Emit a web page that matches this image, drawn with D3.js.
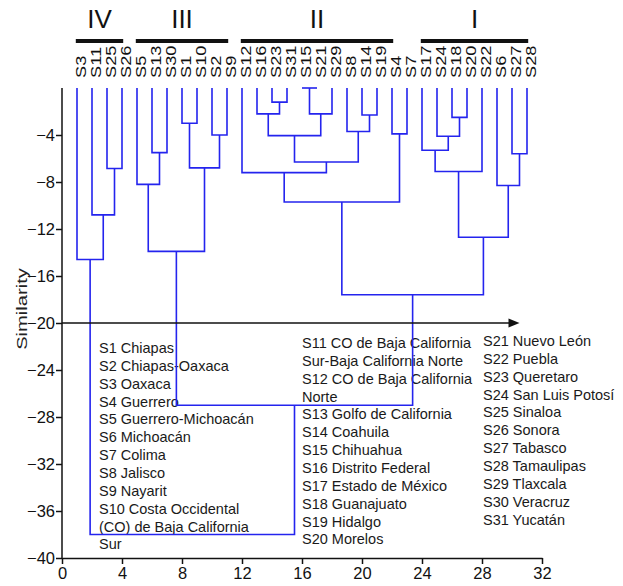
<!DOCTYPE html>
<html>
<head>
<meta charset="utf-8">
<script src="https://cdn.jsdelivr.net/npm/d3@7"></script>
<style>
  body { margin: 0; background: #fff; }
  svg { display: block; font-family: "Liberation Sans", Arial, sans-serif; }
</style>
</head>
<body>
<svg width="623" height="586"></svg>
<script>
// leaf order along the x axis (leaf i sits at x = i + 1)
const leaves = ["S3", "S11", "S25", "S26", "S5", "S13", "S30", "S1", "S10", "S2", "S9",
    "S12", "S16", "S23", "S31", "S15", "S21", "S29", "S8", "S14", "S19", "S4", "S7",
    "S17", "S24", "S18", "S20", "S22", "S6", "S27", "S28"];

// agglomeration steps: [left, right, similarity], "#k" = cluster made at step k
const merges = [
    ["S25", "S26", -6.85], ["S11", "#0", -10.8], ["S3", "#1", -14.6],
    ["S13", "S30", -5.5], ["S5", "#3", -8.2], ["S1", "S10", -3.0], ["S2", "S9", -4.0],
    ["#5", "#6", -6.8], ["#4", "#7", -13.9],
    ["S23", "S31", -1.2], ["S16", "#9", -2.2], ["S15", "S21", 0], ["#11", "S29", -2.2],
    ["#10", "#12", -4.05], ["S14", "S19", -2.3], ["S8", "#14", -3.7], ["#13", "#15", -6.3],
    ["S12", "#16", -7.2], ["S4", "S7", -3.9], ["#17", "#18", -9.7],
    ["S18", "S20", -2.5], ["S24", "#20", -4.1], ["S17", "#21", -5.3], ["#22", "S22", -7.1],
    ["S27", "S28", -5.6], ["S6", "#24", -8.3], ["#23", "#25", -12.7],
    ["#19", "#26", -17.6], ["#8", "#27", -27.0], ["#2", "#28", -38.0]
];

const groupNames = ["IV", "III", "II", "I"];
const groupFrom = ["S3", "S5", "S12", "S17"];
const groupTo = ["S26", "S9", "S4", "S28"];

const legend1 = ["S1 Chiapas", "S2 Chiapas-Oaxaca", "S3 Oaxaca", "S4 Guerrero",
    "S5 Guerrero-Michoacán", "S6 Michoacán", "S7 Colima", "S8 Jalisco", "S9 Nayarit",
    "S10 Costa Occidental", "(CO) de Baja California", "Sur"];
const legend2 = ["S11 CO de Baja California", "Sur-Baja California Norte",
    "S12 CO de Baja California", "Norte", "S13 Golfo de California", "S14 Coahuila",
    "S15 Chihuahua", "S16 Distrito Federal", "S17 Estado de México", "S18 Guanajuato",
    "S19 Hidalgo", "S20 Morelos"];
const legend3 = ["S21 Nuevo León", "S22 Puebla", "S23 Queretaro", "S24 San Luis Potosí",
    "S25 Sinaloa", "S26 Sonora", "S27 Tabasco", "S28 Tamaulipas", "S29 Tlaxcala",
    "S30 Veracruz", "S31 Yucatán"];

const xTicks = [0, 4, 8, 12, 16, 20, 24, 28, 32];
const yTicks = [-4, -8, -12, -16, -20, -24, -28, -32, -36, -40];
const cutLevel = -20;

const svg = d3.select("svg");
const blue = "#2424ee";

const x = d3.scaleLinear().domain([0, 32]).range([62, 542]);
const y = d3.scaleLinear().domain([0, -40]).range([88, 558]);

svg.append("rect").attr("width", 623).attr("height", 586).attr("fill", "#fff");

// legend text (drawn first so the tree lines run over it)
const legendCols = [
    {lines: legend1, left: 99, top: 353},
    {lines: legend2, left: 302, top: 348},
    {lines: legend3, left: 483, top: 346}
];
legendCols.forEach(function (col) {
    svg.append("g")
        .selectAll("text")
        .data(col.lines)
        .join("text")
        .attr("x", col.left)
        .attr("y", (d, i) => col.top + i * 17.85)
        .attr("font-size", 14.5)
        .attr("fill", "#1a1a1a")
        .text(d => d);
});

// positions of leaves and clusters
const pos = new Map();
leaves.forEach((s, i) => pos.set(s, {x: i + 1, h: 0}));
const links = [];
merges.forEach(function (m, k) {
    const a = pos.get(m[0]), b = pos.get(m[1]);
    pos.set("#" + k, {x: (a.x + b.x) / 2, h: m[2]});
    links.push({a: a, b: b, h: m[2]});
});

svg.append("g")
    .selectAll("path")
    .data(links)
    .join("path")
    .attr("d", d => "M" + x(d.a.x) + "," + y(d.a.h) + "V" + y(d.h)
        + "H" + x(d.b.x) + "V" + y(d.b.h))
    .attr("fill", "none")
    .attr("stroke", blue)
    .attr("stroke-width", 1.6);

// axes
const yAxis = svg.append("g")
    .attr("transform", "translate(" + x(0) + ",0)")
    .call(d3.axisLeft(y).tickValues(yTicks).tickSize(6).tickSizeOuter(0).tickPadding(1));
const xAxis = svg.append("g")
    .attr("transform", "translate(0," + y(-40) + ")")
    .call(d3.axisBottom(x).tickValues(xTicks).tickSize(6).tickSizeOuter(0).tickPadding(3));
[yAxis, xAxis].forEach(function (g) {
    g.selectAll("path, line").attr("stroke", "#111").attr("stroke-width", 1.5);
    g.selectAll("text").attr("font-size", 16.5).attr("fill", "#111")
        .attr("font-family", "'Liberation Sans', Arial, sans-serif");
});
yAxis.select(".domain").attr("d", "M0," + y(0) + "V" + y(-40));

svg.append("text")
    .attr("transform", "translate(27," + 309 + ") rotate(-90) scale(1.3,1)")
    .attr("text-anchor", "middle")
    .attr("font-size", 15.5)
    .attr("fill", "#222")
    .text("Similarity");

// cut line with arrow
const tip = x(30.5);
svg.append("line")
    .attr("x1", x(0)).attr("x2", tip - 6)
    .attr("y1", y(cutLevel)).attr("y2", y(cutLevel))
    .attr("stroke", "#111").attr("stroke-width", 1.5);
svg.append("path")
    .attr("d", "M" + tip + "," + y(cutLevel) + "l-11,-4.5v9z")
    .attr("fill", "#111");

// leaf labels
svg.append("g")
    .selectAll("text")
    .data(leaves)
    .join("text")
    .attr("transform", d => "translate(" + (x(pos.get(d).x) + 9) + ",78) rotate(-90) scale(1.3,1)")
    .attr("font-size", 14)
    .attr("fill", "#111")
    .text(d => d);

// group bars and roman numerals
groupNames.forEach(function (g, i) {
    const x0 = x(pos.get(groupFrom[i]).x - 0.08), x1 = x(pos.get(groupTo[i]).x + 0.08);
    svg.append("rect")
        .attr("x", x0).attr("y", 39)
        .attr("width", x1 - x0).attr("height", 4)
        .attr("fill", "#111");
    svg.append("text")
        .attr("x", (x0 + x1) / 2).attr("y", 28)
        .attr("text-anchor", "middle")
        .attr("font-size", 26)
        .attr("fill", "#111")
        .text(g);
});
</script>
</body>
</html>
